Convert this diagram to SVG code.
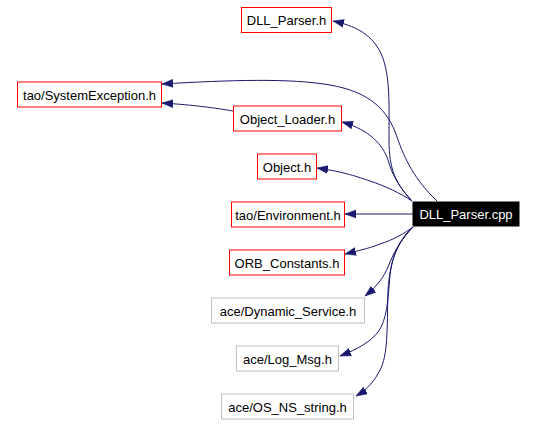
<svg xmlns="http://www.w3.org/2000/svg" width="536" height="424" viewBox="0 0 536 424">
<style>
  .n rect { fill: #ffffff; stroke-width: 1; }
  .red rect { stroke: #ff0000; }
  .gray rect { stroke: #bfbfbf; }
  .root rect { fill: #000000; stroke: #000000; }
  text { font-family: "Liberation Sans", Arial, sans-serif; font-size: 13px; text-anchor: middle; fill: #000000; }
  .root text { fill: #ffffff; }
  .e path { fill: none; stroke: #191970; stroke-width: 1; marker-end: url(#ah); }
</style>
<defs>
  <marker id="ah" markerUnits="userSpaceOnUse" markerWidth="12" markerHeight="9" refX="11" refY="4" orient="auto" viewBox="0 0 12 8">
    <path d="M0,0 L11,4 L0,8 Z" fill="#191970" stroke="#191970" stroke-width="0.5"/>
  </marker>
</defs>
<rect width="536" height="424" fill="#ffffff"/>
<g id="edges" class="e">
  <path d="M412,201 C396,184 389,170 389,140 C389,100 391,65 376,45 C368,34 356,26 333,21"/>
  <path d="M437,201 C415,180 405,160 397,137 C388,110 370,92 330,85 C290,78 230,80 162,84"/>
  <path d="M233,111 C215,108 195,105 162,103"/>
  <path d="M412,201 C400,188 392,175 388,160 C383,145 370,130 342,122"/>
  <path d="M412,201 C400,193 385,186 370,181 C358,177 345,172 317,168"/>
  <path d="M413,214 L345,214"/>
  <path d="M413,227 C405,233 393,240 380,244 C373,247 362,250 345,254"/>
  <path d="M413,227 C403,237 395,250 390,262 C386,273 380,284 365,296"/>
  <path d="M413,227 C400,240 392,255 390,275 C388,300 387,320 378,332 C370,342 358,349 340,356"/>
  <path d="M413,227 C398,240 390,260 388,290 C387,330 388,355 380,370 C375,380 368,389 356,396"/>
</g>
<g id="node_DLL_Parser_h" class="n red"><rect x="241.5" y="7.5" width="90" height="25"/><text x="286.5" y="25">DLL_Parser.h</text></g>
<g id="node_SystemException_h" class="n red"><rect x="17.5" y="82" width="144" height="25"/><text x="89.5" y="99.5">tao/SystemException.h</text></g>
<g id="node_Object_Loader_h" class="n red"><rect x="233.5" y="106" width="108" height="25"/><text x="287.5" y="123.5">Object_Loader.h</text></g>
<g id="node_Object_h" class="n red"><rect x="257.5" y="154" width="59" height="25"/><text x="287" y="171.5">Object.h</text></g>
<g id="node_Environment_h" class="n red"><rect x="231.5" y="202" width="113" height="25"/><text x="288" y="219.5">tao/Environment.h</text></g>
<g id="node_DLL_Parser_cpp" class="n root"><rect x="413" y="202" width="106" height="24"/><text x="466" y="219">DLL_Parser.cpp</text></g>
<g id="node_ORB_Constants_h" class="n red"><rect x="229.5" y="250" width="115" height="25"/><text x="287" y="267.5">ORB_Constants.h</text></g>
<g id="node_Dynamic_Service_h" class="n gray"><rect x="211.5" y="298" width="153" height="25"/><text x="288" y="315.5">ace/Dynamic_Service.h</text></g>
<g id="node_Log_Msg_h" class="n gray"><rect x="236.5" y="346" width="102" height="25"/><text x="287.5" y="363.5">ace/Log_Msg.h</text></g>
<g id="node_OS_NS_string_h" class="n gray"><rect x="221.5" y="394" width="132" height="25"/><text x="287.5" y="411.5">ace/OS_NS_string.h</text></g>
</svg>
